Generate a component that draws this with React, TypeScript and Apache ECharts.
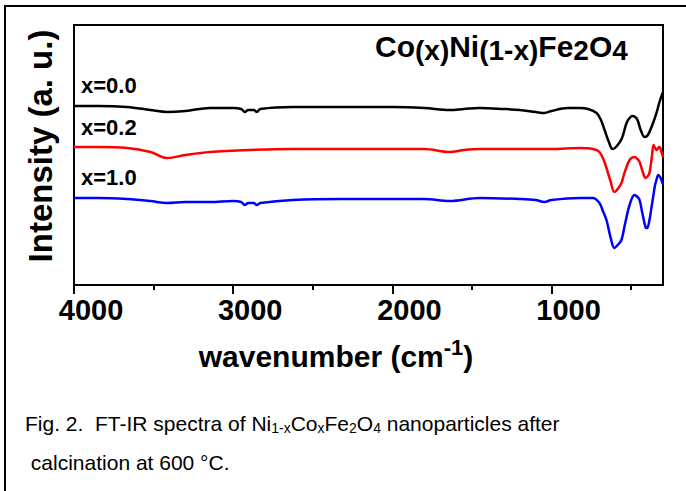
import React, { useEffect, useRef } from "react";
import * as echarts from "echarts";

// Wavenumber (cm-1) and intensity (a.u.)
const blackWn = [4000, 3850, 3667, 3520, 3416, 3300, 3146, 3000, 2950, 2927, 2905, 2870, 2851, 2830, 2625, 2312, 1998, 1800, 1640, 1550, 1452, 1300, 1200, 1100, 1045, 1000, 900, 824, 770, 717, 690, 667, 640, 617, 595, 560, 529, 510, 492, 475, 460, 440, 416, 400, 385, 360, 341, 320, 300];
const blackInt = [179, 179, 178, 175, 173, 174, 177, 177, 176, 173, 175, 175, 173, 176, 178, 178, 178, 177, 175, 176, 177, 176, 175, 173, 172, 174, 177, 177, 176, 172, 165, 155, 143, 136, 138, 146, 162, 167, 169, 168, 165, 155, 148, 149, 153, 163, 172, 184, 193];

const redWn = [4000, 3850, 3667, 3520, 3416, 3300, 3146, 2900, 2625, 2312, 1998, 1800, 1640, 1550, 1452, 1200, 1000, 824, 740, 699, 670, 655, 630, 605, 580, 561, 540, 510, 479, 460, 447, 425, 410, 395, 385, 370, 360, 350, 341, 330, 322, 310, 300];
const redInt = [138, 138, 137, 133, 127, 130, 133, 135, 136, 136, 136, 136, 133, 135, 136, 136, 136, 137, 136, 133, 124, 117, 104, 93, 97, 102, 113, 125, 128, 126, 123, 112, 107, 109, 112, 128, 140, 137, 135, 137, 138, 133, 128];

const blueWn = [4000, 3850, 3667, 3520, 3416, 3300, 3146, 3000, 2950, 2927, 2905, 2870, 2851, 2830, 2625, 2312, 1998, 1800, 1640, 1452, 1200, 1100, 1045, 1000, 824, 740, 699, 680, 655, 630, 605, 585, 561, 540, 510, 479, 460, 447, 430, 410, 400, 385, 370, 360, 350, 341, 330, 318, 303, 300];
const blueInt = [87, 87, 86, 84, 82, 83, 83, 84, 83, 80, 82, 82, 80, 82, 85, 86, 86, 86, 84, 87, 86, 85, 83, 85, 87, 87, 82, 75, 65, 48, 37, 40, 45, 60, 80, 90, 88, 85, 72, 58, 57, 65, 80, 90, 100, 105, 110, 108, 102, 101];

const seriesNames = ["x=0.0", "x=0.2", "x=1.0"];
const seriesColors = ["#000000", "#ff0000", "#0000ff"];
const xMajorTicks = [4000, 3000, 2000, 1000];
const xMinorTicks = [3500, 2500, 1500, 500];

const FONT = "'Liberation Sans', Arial, Helvetica, sans-serif";

function pairs(w: number[], v: number[]) {
  return w.map((x, i) => [x, v[i]]);
}

export default function App() {
  const ref = useRef<HTMLDivElement>(null);
  useEffect(() => {
    const chart = echarts.init(ref.current!, null, { renderer: "svg" });
    const data = [pairs(blackWn, blackInt), pairs(redWn, redInt), pairs(blueWn, blueInt)];
    const labelY = [85, 127, 177];
    const bold = (size: number) => ({ fontFamily: FONT, fontWeight: "bold", fontSize: size, fill: "#000" });
    chart.setOption({
      animation: false,
      backgroundColor: "#ffffff",
      grid: {
        left: 74,
        top: 25,
        width: 589,
        height: 260,
        show: true,
        borderColor: "#000",
        borderWidth: 2,
        backgroundColor: "transparent",
      },
      xAxis: [
        {
          type: "value",
          min: 300,
          max: 4000,
          inverse: true,
          axisLine: { show: true, lineStyle: { color: "#000", width: 2 } },
          axisTick: { show: true, customValues: xMajorTicks, length: 9, lineStyle: { color: "#000", width: 2 } },
          axisLabel: {
            customValues: xMajorTicks,
            formatter: (v: number) => String(v),
            fontFamily: FONT,
            fontWeight: "bold",
            fontSize: 29,
            color: "#000",
            margin: 10,
            padding: [0, 0, 0, 34],
          },
          splitLine: { show: false },
        },
        {
          type: "value",
          min: 300,
          max: 4000,
          inverse: true,
          position: "bottom",
          axisLine: { show: false },
          axisTick: { show: true, customValues: xMinorTicks, length: 5, lineStyle: { color: "#000", width: 2 } },
          axisLabel: { show: false },
          splitLine: { show: false },
        },
      ],
      yAxis: {
        type: "value",
        min: 0,
        max: 260,
        axisLine: { show: false },
        axisTick: { show: false },
        axisLabel: { show: false },
        splitLine: { show: false },
      },
      series: data.map((d, i) => ({
        type: "line",
        name: seriesNames[i],
        data: d,
        xAxisIndex: 0,
        showSymbol: false,
        smooth: 0.35,
        lineStyle: { color: seriesColors[i], width: 2.5 },
        itemStyle: { color: seriesColors[i] },
      })),
      graphic: [
        {
          type: "rect",
          shape: { x: 5, y: 6, width: 720, height: 540 },
          style: { fill: "none", stroke: "#000", lineWidth: 2 },
          silent: true,
        },
        {
          type: "text",
          x: 40,
          y: 146,
          rotation: Math.PI / 2,
          style: {
            text: "Intensity (a. u.)",
            ...bold(33),
            align: "center",
            verticalAlign: "middle",
            textAlign: "center",
            textVerticalAlign: "middle",
          },
        },
        ...seriesNames.map((n, i) => ({
          type: "text",
          x: 81,
          y: labelY[i],
          style: {
            text: n,
            ...bold(22),
            align: "left",
            verticalAlign: "middle",
            textAlign: "left",
            textVerticalAlign: "middle",
          },
        })),
        {
          type: "text",
          x: 375,
          y: 46,
          style: {
            text: "{m|Co}{s|(x)}{m|Ni}{s|(1-x)}{m|Fe}{s|2}{m|O}{s|4}",
            align: "left",
            verticalAlign: "middle",
            textAlign: "left",
            textVerticalAlign: "middle",
            rich: {
              m: { ...bold(30), lineHeight: 36, verticalAlign: "middle" },
              s: { ...bold(28), lineHeight: 20, verticalAlign: "bottom" },
            },
          },
        },
        {
          type: "text",
          x: 336,
          y: 356,
          style: {
            text: "{m|wavenumber (cm}{p|-1}{m|)}",
            align: "center",
            verticalAlign: "middle",
            textAlign: "center",
            textVerticalAlign: "middle",
            rich: {
              m: { ...bold(30), lineHeight: 40, verticalAlign: "middle" },
              p: { ...bold(22), lineHeight: 22, verticalAlign: "top" },
            },
          },
        },
        {
          type: "text",
          x: 25,
          y: 423,
          style: {
            text: "{a|Fig. 2.  FT-IR spectra of Ni}{s|1-x}{a|Co}{s|x}{a|Fe}{s|2}{a|O}{s|4}{a| nanoparticles after}",
            align: "left",
            verticalAlign: "middle",
            textAlign: "left",
            textVerticalAlign: "middle",
            rich: {
              a: { fontFamily: FONT, fontSize: 21, fill: "#000", lineHeight: 24, verticalAlign: "middle" },
              s: { fontFamily: FONT, fontSize: 14, fill: "#000", lineHeight: 14, verticalAlign: "bottom" },
            },
          },
        },
        {
          type: "text",
          x: 25,
          y: 462,
          style: {
            text: " calcination at 600 °C.",
            fontFamily: FONT,
            fontSize: 21,
            fill: "#000",
            align: "left",
            verticalAlign: "middle",
            textAlign: "left",
            textVerticalAlign: "middle",
          },
        },
      ],
    });
    return () => chart.dispose();
  }, []);
  return (
    <div
      ref={ref}
      style={{ position: "fixed", left: 0, top: 0, width: 686, height: 491, background: "#fff" }}
    />
  );
}
